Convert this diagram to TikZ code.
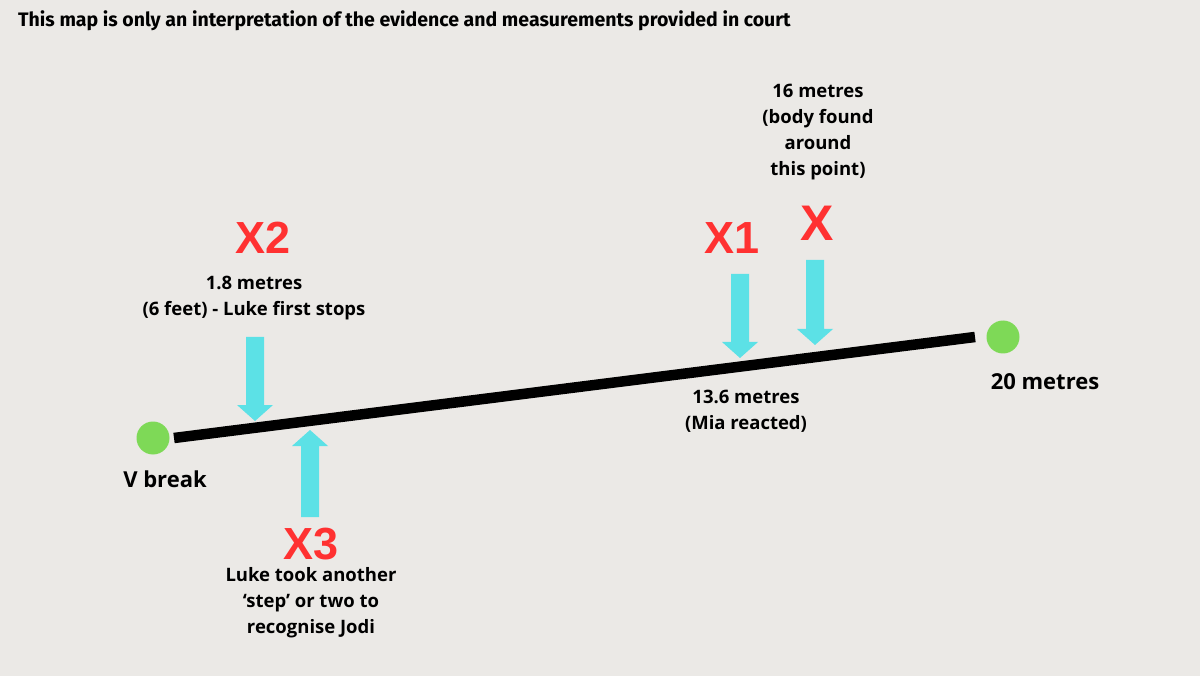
\documentclass[tikz,border=0pt]{standalone}
\usepackage{fontspec}
\setmainfont{Open Sans}
\newfontfamily\markfont{Liberation Sans}
\newfontfamily\titlefont{Fira Sans}
\definecolor{paper}{RGB}{235,233,230}
\definecolor{markred}{RGB}{255,49,49}
\definecolor{pointer}{RGB}{92,225,230}
\definecolor{dotgreen}{RGB}{126,217,87}
\newcommand{\fatarrow}[3]{% x, tail y, tip y
  \pgfmathsetmacro{\hb}{#3-\headlen*sign(#3-#2)}
  \fill[pointer] (#1-\shaftw,#2) -- (#1+\shaftw,#2) -- (#1+\shaftw,\hb) -- (#1+\headw,\hb)
    -- (#1,#3) -- (#1-\headw,\hb) -- (#1-\shaftw,\hb) -- cycle;}
\begin{document}
\begin{tikzpicture}[x=1pt, y=-1pt,
    tag/.style={text=markred, inner sep=0pt, font=\markfont\bfseries\fontsize{45}{45}\selectfont},
    note/.style={align=center, inner sep=0pt, font=\bfseries\fontsize{18.5}{26}\selectfont},
    endnote/.style={inner sep=0pt, font=\bfseries\fontsize{22}{26}\selectfont},
    dot/.style={circle, fill=dotgreen, minimum size=33pt, inner sep=0pt}]
    \def\shaftw{9}
    \def\headw{18}
    \def\headlen{16}
    \fill[paper] (0,0) rectangle (1200,676);
    \useasboundingbox (0,0) rectangle (1200,676);
    \node[anchor=base west, inner sep=0pt, font=\titlefont\bfseries\fontsize{19.5}{19.5}\selectfont] (title) at (18,27)
      {This map is only an interpretation of the evidence and measurements provided in court};
    \node[dot] (vbreak) at (153,438) {};
    \node[dot] (end) at (1003,337) {};
    \coordinate (start) at (174,438);
    \coordinate (stop) at (975,337);
    \draw[line width=10.5pt] (start) -- (stop);
    \node[endnote] (vbreaktxt) at (165,479) {V break};
    \node[endnote] (endtxt) at (1045,382) {20 metres};
    \fatarrow{255}{337}{421}
    \fatarrow{310}{517}{430}
    \fatarrow{740}{274}{358}
    \fatarrow{815}{260}{345}
    \node[tag] (x2) at (263,238) {X2};
    \node[note] (x2txt) at (254,298) {1.8 metres\\(6 feet) - Luke first stops};
    \node[tag] (x3) at (311,544) {X3};
    \node[note] (x3txt) at (311,603) {Luke took another\\‘step’ or two to\\recognise Jodi};
    \node[tag] (x1) at (732,238) {X1};
    \node[note] (x1txt) at (746,411) {13.6 metres\\(Mia reacted)};
    \node[tag, font=\markfont\bfseries\fontsize{50}{50}\selectfont] (x) at (817,223) {X};
    \node[note] (xtxt) at (818,132) {16 metres\\(body found\\around\\ this point)};
  \end{tikzpicture}
\end{document}
